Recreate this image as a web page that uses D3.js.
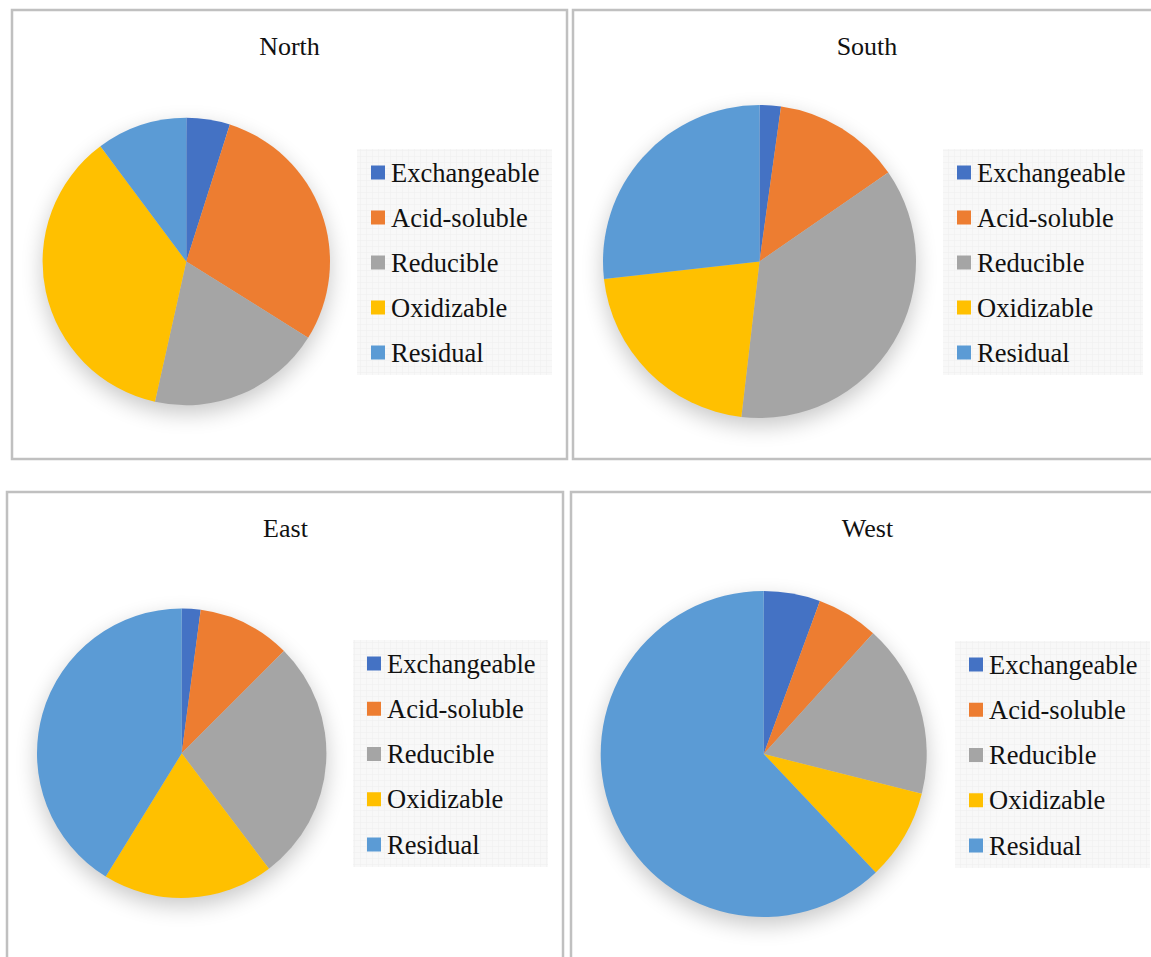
<!DOCTYPE html>
<html>
<head>
<meta charset="utf-8">
<script src="https://cdn.jsdelivr.net/npm/d3@7"></script>
<style>
  body { margin: 0; background: #fff; }
  svg { display: block; }
</style>
</head>
<body>
<div id="chart"></div>
<script>
// fractions, in order of the legend
const fractions = ["Exchangeable", "Acid-soluble", "Reducible", "Oxidizable", "Residual"];
const regions = ["North", "South", "East", "West"];
// percentages
const northValues = [4.9, 29.0, 19.6, 36.3, 10.2];
const southValues = [2.2, 13.2, 36.5, 21.4, 26.8];
const eastValues  = [2.1, 10.4, 27.2, 19.1, 41.2];
const westValues  = [5.6, 6.1, 17.2, 9.0, 62.0];
const allValues = [northValues, southValues, eastValues, westValues];

const colors = ['#4472c4', '#ed7d31', '#a5a5a5', '#ffc000', '#5b9bd5'];

const width = 1151, height = 957;

// panel frames, pie placement and legend box for each region
const layout = [
    { x: 12, y: 10, w: 555, h: 449, cx: 186.3, cy: 261.5, r: 143.7, lx: 357, ly: 149, lw: 195, lh: 226 },
    { x: 573, y: 10, w: 600, h: 449, cx: 759.5, cy: 261.5, r: 156.5, lx: 943, ly: 149, lw: 200, lh: 226 },
    { x: 7, y: 492, w: 556, h: 500, cx: 181.7, cy: 753.3, r: 144.7, lx: 353, ly: 640, lw: 195, lh: 227 },
    { x: 571, y: 492, w: 600, h: 500, cx: 763.7, cy: 754, r: 163, lx: 955, ly: 641, lw: 195, lh: 227 }
];
const titleX = [289.5, 867, 285.5, 867.5];

const svg = d3.select('#chart').append('svg')
    .attr('width', width)
    .attr('height', height)
    .attr('viewBox', `0 0 ${width} ${height}`)

const defs = svg.append('defs')
// soft shadow under the pies
const shadow = defs.append('filter')
    .attr('id', 'pie-shadow')
    .attr('x', '-50%').attr('y', '-50%')
    .attr('width', '200%').attr('height', '200%')
shadow.append('feGaussianBlur').attr('in', 'SourceAlpha').attr('stdDeviation', 11).attr('result', 'blur')
shadow.append('feOffset').attr('in', 'blur').attr('dy', 8).attr('result', 'off')
shadow.append('feComponentTransfer').attr('in', 'off')
    .append('feFuncA').attr('type', 'linear').attr('slope', 0.22)

// faint grid texture behind the legends
const pat = defs.append('pattern')
    .attr('id', 'legend-grid')
    .attr('width', 6).attr('height', 6)
    .attr('patternUnits', 'userSpaceOnUse')
pat.append('rect').attr('width', 6).attr('height', 6).attr('fill', '#f8f8f8')
pat.append('path').attr('d', 'M6 0 L0 0 L0 6').attr('fill', 'none').attr('stroke', '#efefef').attr('stroke-width', 1)

const pie = d3.pie().sort(null).value(d => d)
const color = d3.scaleOrdinal().domain(fractions).range(colors)
const serif = '"Liberation Serif", "Times New Roman", Times, serif'

regions.forEach((name, k) => {
    const L = layout[k]
    const g = svg.append('g')

    // frame (the right and bottom panels run off the page)
    g.append('rect')
        .attr('x', L.x).attr('y', L.y)
        .attr('width', L.w).attr('height', L.h)
        .attr('fill', '#fff')
        .attr('stroke', '#c0c0c0')
        .attr('stroke-width', 2.5)

    g.append('text')
        .attr('x', titleX[k])
        .attr('y', L.y + 45)
        .attr('text-anchor', 'middle')
        .style('font-family', serif)
        .attr('font-size', 26)
        .attr('fill', '#111')
        .text(name)

    const arc = d3.arc().innerRadius(0).outerRadius(L.r)
    const pg = g.append('g').attr('transform', `translate(${L.cx},${L.cy})`)
    pg.append('circle').attr('r', L.r).attr('fill', '#000').attr('filter', 'url(#pie-shadow)')
    pg.selectAll('path')
        .data(pie(allValues[k]))
        .join('path')
        .attr('d', arc)
        .attr('fill', (d, i) => color(fractions[i]))

    // legend
    g.append('rect')
        .attr('x', L.lx).attr('y', L.ly)
        .attr('width', L.lw).attr('height', L.lh)
        .attr('fill', 'url(#legend-grid)')
    const rowY = d3.scalePoint().domain(fractions).range([L.ly + 23.5, L.ly + L.lh - 22.5])
    const item = g.selectAll('g.item')
        .data(fractions)
        .join('g')
        .attr('class', 'item')
        .attr('transform', d => `translate(${L.lx + 14},${rowY(d)})`)
    item.append('rect')
        .attr('x', 0).attr('y', -7)
        .attr('width', 14).attr('height', 14)
        .attr('fill', d => color(d))
    item.append('text')
        .attr('x', 20)
        .attr('y', 9)
        .style('font-family', serif)
        .attr('font-size', 26.5)
        .attr('fill', '#111')
        .text(d => d)
})
</script>
</body>
</html>
